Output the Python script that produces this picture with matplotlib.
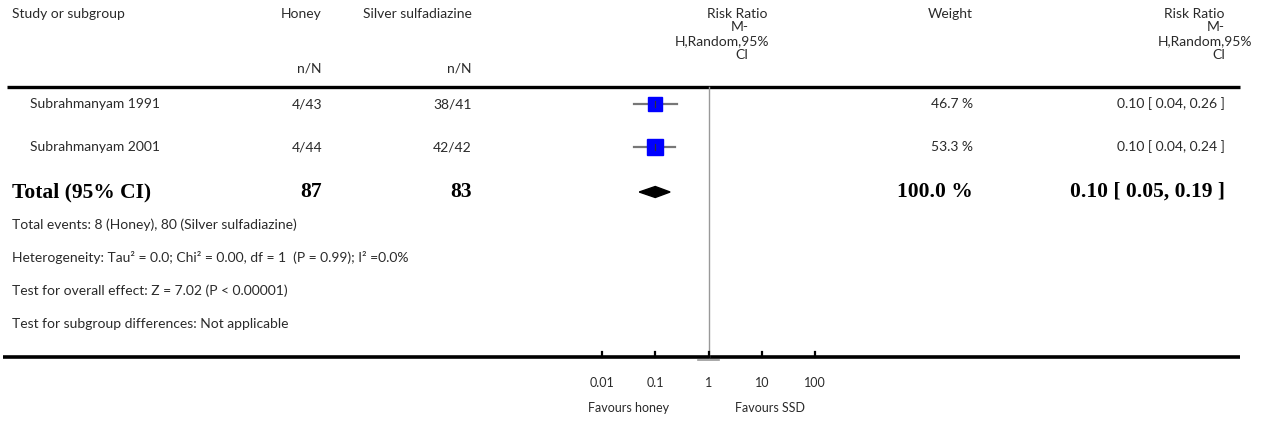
import numpy as np
import matplotlib
matplotlib.use("Agg")
import matplotlib.pyplot as plt

# Data
studies = ["Subrahmanyam 1991", "Subrahmanyam 2001"]
honey_nN = ["4/43", "4/44"]
ssd_nN = ["38/41", "42/42"]
rr = [0.10, 0.10]
rr_lo = [0.04, 0.04]
rr_hi = [0.26, 0.24]
weights = [46.7, 53.3]
total_honey = 87
total_ssd = 83
total_rr, total_lo, total_hi = 0.10, 0.05, 0.19
footnotes = [
    "Total events: 8 (Honey), 80 (Silver sulfadiazine)",
    "Heterogeneity: Tau² = 0.0; Chi² = 0.00, df = 1  (P = 0.99); I² =0.0%",
    "Test for overall effect: Z = 7.02 (P < 0.00001)",
    "Test for subgroup differences: Not applicable",
]
tick_vals = [0.01, 0.1, 1, 10, 100]
tick_labels = ["0.01", "0.1", "1", "10", "100"]

W, H = 1268, 425
SANS = ["Lato", "DejaVu Sans"]
SERIF = ["Liberation Serif", "DejaVu Serif"]
TXT = "#2a2a2a"
FS = 10
FSB = 15.5

fig = plt.figure(figsize=(W / 100, H / 100), dpi=100)
ax = fig.add_axes([0, 0, 1, 1])
ax.set_xlim(0, W)
ax.set_ylim(H, 0)
ax.axis("off")

# forest panel: log scale, 0.01 -> x=602, 100 -> x=815
x0, x1 = 602, 815
fa = fig.add_axes([x0 / W, 0, (x1 - x0) / W, 1])
fa.set_xscale("log")
fa.set_xlim(0.01, 100)
fa.set_ylim(H, 0)
fa.axis("off")

def t(x, y, s, ha="left", bold=False, size=None, **kw):
    if bold:
        ax.text(x, y, s, ha=ha, va="center", family=SERIF, weight="bold",
                fontsize=size or FSB, color="black", **kw)
    else:
        ax.text(x, y, s, ha=ha, va="center", family=SANS,
                fontsize=size or FS, color=TXT, **kw)

# header
t(12, 14, "Study or subgroup")
t(322, 14, "Honey", ha="right")
t(472, 14, "Silver sulfadiazine", ha="right")
t(322, 68, "n/N", ha="right")
t(472, 68, "n/N", ha="right")
for y, s, xc in [(14, "Risk Ratio", 737), (27, "M-", 740), (41, "H,Random,95%", 722), (55, "CI", 742)]:
    t(xc, y, s, ha="center")
t(973, 14, "Weight", ha="right")
for y, s, xr in [(14, "Risk Ratio", 1225), (27, "M-", 1225), (41, "H,Random,95%", 1252), (55, "CI", 1225)]:
    t(xr, y, s, ha="right")

ax.plot([7, 1240], [87, 87], color="black", lw=2.4, solid_capstyle="butt")
ax.plot([3, 1240], [357, 357], color="black", lw=2.6, solid_capstyle="butt")

# line of no effect
fa.plot([1, 1], [87, 357], color="#999999", lw=1.0, clip_on=False)

# study rows
row_y = [104, 147]
for i, y in enumerate(row_y):
    t(30, y, studies[i])
    t(322, y, honey_nN[i], ha="right")
    t(472, y, ssd_nN[i], ha="right")
    t(973, y, f"{weights[i]:.1f} %", ha="right")
    t(1225, y, f"{rr[i]:.2f} [ {rr_lo[i]:.2f}, {rr_hi[i]:.2f} ]", ha="right")
    fa.plot([rr_lo[i], rr_hi[i]], [y, y], color="#777777", lw=1.6, clip_on=False, zorder=2)
    ms = 11 * np.sqrt(weights[i] / 50.0)
    fa.plot([rr[i]], [y], marker="s", ms=ms, color="#0000ff", mec="#0000ff", clip_on=False, zorder=3)
    fa.plot([rr[i], rr[i]], [y - 3, y + 3], color="#333333", lw=0.8, clip_on=False, zorder=4)

# total row
ty = 192
t(12, ty, "Total (95% CI)", bold=True)
t(322, ty, str(total_honey), ha="right", bold=True)
t(472, ty, str(total_ssd), ha="right", bold=True)
t(973, ty, "100.0 %", ha="right", bold=True)
t(1225, ty, f"{total_rr:.2f} [ {total_lo:.2f}, {total_hi:.2f} ]", ha="right", bold=True)
fa.fill([total_lo, total_rr, total_hi, total_rr], [ty, ty - 5.5, ty, ty + 5.5],
        color="black", clip_on=False, zorder=3)

# footnotes
for k, s in enumerate(footnotes):
    t(12, 225 + 33 * k, s)

# axis ticks
for v, lab in zip(tick_vals, tick_labels):
    fa.plot([v, v], [357, 352], color="black", lw=1.6, clip_on=False)
    fa.text(v, 383, lab, ha="center", va="center", family=SANS, fontsize=9, color=TXT)
fa.plot([0.63, 1.58], [359.5, 359.5], color="#999999", lw=1.2, clip_on=False)
fa.text(0.032, 408, "Favours honey", ha="center", va="center", family=SANS, fontsize=9, color=TXT)
fa.text(14, 408, "Favours SSD", ha="center", va="center", family=SANS, fontsize=9, color=TXT)

fig.savefig("out.png", dpi=100)
